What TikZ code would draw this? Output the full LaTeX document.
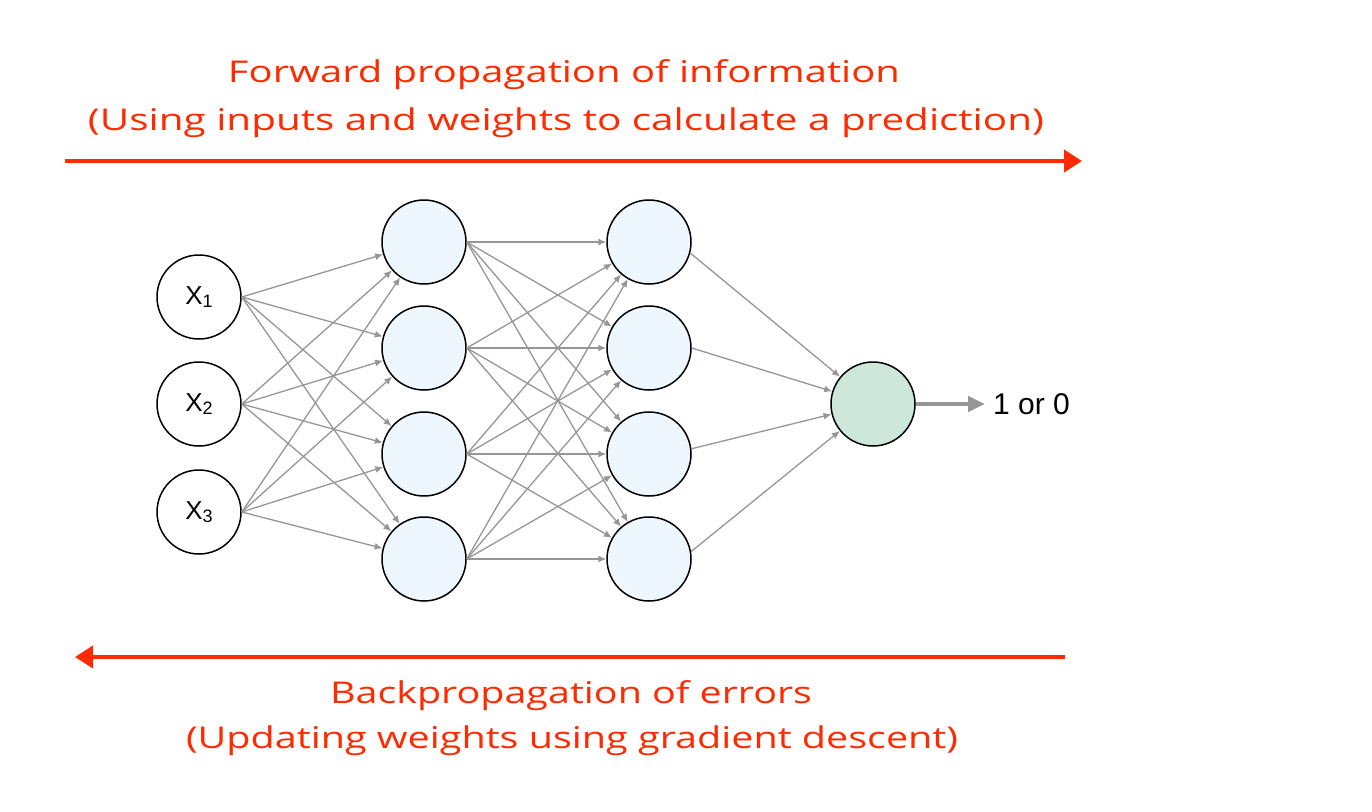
\documentclass[tikz,border=0pt]{standalone}
\usepackage{fontspec}
\usepackage{graphicx}
\setmainfont{Liberation Sans}
\newfontfamily\handfont{Open Sans}
\usetikzlibrary{arrows.meta}
\definecolor{redhand}{RGB}{255,42,0}
\definecolor{edgegray}{RGB}{150,150,150}
\definecolor{hidfill}{RGB}{238,246,254}
\definecolor{outfill}{RGB}{205,232,219}
\tikzset{
  neuron/.style={circle,draw=black,line width=1.5pt,minimum size=84pt,inner sep=0pt},
  inneuron/.style={neuron,fill=white,font=\fontsize{26}{26}\selectfont},
  hidneuron/.style={neuron,fill=hidfill},
  outneuron/.style={neuron,fill=outfill},
  edge/.style={draw=edgegray,line width=1.3pt,-{Latex[length=8pt,width=7pt]}},
  bigarrow/.style={draw=redhand,line width=4pt,-{Triangle[length=18pt,width=22pt]}},
  handtext/.style={text=redhand,font=\handfont\fontsize{30}{30}\selectfont,anchor=base,inner sep=0pt},
  outlabel/.style={font=\fontsize{30}{30}\selectfont,anchor=base west,inner sep=0pt}
}
\newcommand{\subidx}[1]{\raisebox{-3pt}{\fontsize{18}{18}\selectfont #1}}
\begin{document}
\begin{tikzpicture}[x=1pt,y=-1pt]
\useasboundingbox (0,0) rectangle (1372,811);
% input layer
\node[inneuron] (i1) at (199,297) {X\subidx{1}};
\node[inneuron] (i2) at (199,404) {X\subidx{2}};
\node[inneuron] (i3) at (199,512) {X\subidx{3}};
% hidden layer 1
\node[hidneuron] (ha) at (424,242) {};
\node[hidneuron] (hb) at (424,348) {};
\node[hidneuron] (hc) at (424,454) {};
\node[hidneuron] (hd) at (424,559) {};
% hidden layer 2
\node[hidneuron] (ga) at (649,242) {};
\node[hidneuron] (gb) at (649,348) {};
\node[hidneuron] (gc) at (649,454) {};
\node[hidneuron] (gd) at (649,559) {};
% output
\node[outneuron] (o) at (873,404) {};
\coordinate (otip) at (985,404);
\node[outlabel] (lab) at (993,414) {1 or 0};
% input -> hidden1
\foreach \s in {i1,i2,i3}{
  \foreach \t in {ha,hb,hc,hd}{
    \draw[edge] (\s.east) -- (\t);
  }
}
% hidden1 -> hidden2
\foreach \s in {ha,hb,hc,hd}{
  \foreach \t in {ga,gb,gc,gd}{
    \draw[edge] (\s.east) -- (\t);
  }
}
% hidden2 -> output
\draw[edge] (ga.-15) -- (o);
\draw[edge] (gb.east) -- (o);
\draw[edge] (gc.7) -- (o);
\draw[edge] (gd.10) -- (o);
% output arrow
\draw[draw=edgegray,line width=4pt,-{Triangle[length=17pt,width=15pt]}] (o.east) -- (otip);
% forward text and arrow
\node[handtext] (f1) at (564,82) {\resizebox{672pt}{\height}{Forward propagation of information}};
\node[handtext] (f2) at (566,130) {\resizebox{956pt}{\height}{(Using inputs and weights to calculate a prediction)}};
\coordinate (fs) at (65,161);
\coordinate (fe) at (1082,161);
\draw[bigarrow] (fs) -- (fe);
% backward arrow and text
\coordinate (bs) at (1065,657);
\coordinate (be) at (75,657);
\draw[bigarrow] (bs) -- (be);
\node[handtext] (b1) at (571,703) {\resizebox{482pt}{\height}{Backpropagation of errors}};
\node[handtext] (b2) at (572,748) {\resizebox{772pt}{\height}{(Updating weights using gradient descent)}};
\end{tikzpicture}
\end{document}
